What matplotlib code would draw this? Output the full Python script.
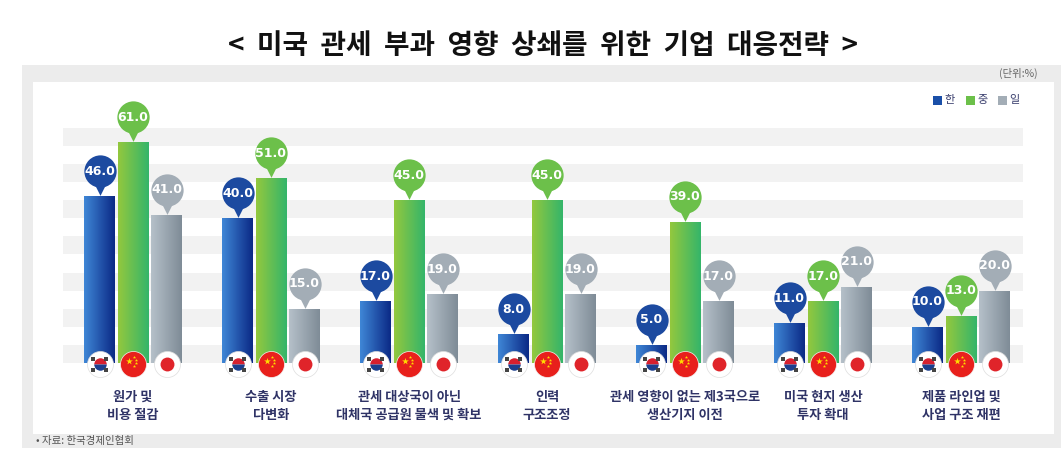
import matplotlib.pyplot as plt
import matplotlib.patches as mpatches
import numpy as np

plt.rcParams['font.family'] = ['Noto Sans CJK KR', 'DejaVu Sans']

# data
categories = [
    "원가 및\n비용 절감",
    "수출 시장\n다변화",
    "관세 대상국이 아닌\n대체국 공급원 물색 및 확보",
    "인력\n구조조정",
    "관세 영향이 없는 제3국으로\n생산기지 이전",
    "미국 현지 생산\n투자 확대",
    "제품 라인업 및\n사업 구조 재편",
]
korea = [46, 40, 17, 8, 5, 11, 10]
china = [61, 51, 45, 45, 39, 17, 13]
japan = [41, 15, 19, 19, 17, 21, 20]
series_names = ["한", "중", "일"]

W, H = 1061, 462
fig = plt.figure(figsize=(W / 100, H / 100), dpi=100)

# background frame (figure pixel coords)
bg = fig.add_axes([0, 0, 1, 1])
bg.set_xlim(0, W)
bg.set_ylim(H, 0)
bg.axis('off')
bg.add_patch(mpatches.Rectangle((22, 65), W - 22, 383, color='#ececec', lw=0))
bg.add_patch(mpatches.Rectangle((33, 82), 1021, 352, color='white', lw=0))

bg.text(543, 46, "<  미국  관세  부과  영향  상쇄를  위한  기업  대응전략  >", ha='center', va='center',
        fontsize=20, fontweight='bold', color='#111111')
bg.text(1038, 73, "(단위:%)", ha='right', va='center', fontsize=7.5, color='#666666')
bg.text(36, 441, "• 자료: 한국경제인협회", ha='left', va='center', fontsize=7.5, color='#555555')

# main plotting axes: x unit = one group (138 px), y unit = 3.62 px
px_x, x0 = 138.0, 133.0
px_y, y0 = 3.62, 363.0
left_px, right_px, top_px, bot_px = 33, 1054, 82, 434
ax = fig.add_axes([left_px / W, 1 - bot_px / H, (right_px - left_px) / W, (bot_px - top_px) / H])
ax.set_xlim((left_px - x0) / px_x, (right_px - x0) / px_x)
ax.set_ylim(-(bot_px - y0) / px_y, (y0 - top_px) / px_y)
ax.axis('off')

# striped background
xs0, xs1 = (63 - x0) / px_x, (1023 - x0) / px_x
for k in range(7):
    ax.fill_between([xs0, xs1], 10 * k, 10 * k + 5, color='#f2f2f2', lw=0, zorder=0)

x = np.arange(len(categories))
bw = 31 / px_x
off = 33.5 / px_x

grads = [('#3f86d6', '#0b2a86'), ('#93c83e', '#34b56a'), ('#b5c0c9', '#7f8c97')]
pin_colors = ['#1c4aa0', '#6cc04a', '#a3adb6']
legend_colors = ['#1a4fa8', '#6cc04a', '#a3adb6']

for j, vals in enumerate([korea, china, japan]):
    bars = ax.bar(x + (j - 1) * off, vals, width=bw, color='none', lw=0, zorder=2)
    c0 = np.array(plt.matplotlib.colors.to_rgb(grads[j][0]))
    c1 = np.array(plt.matplotlib.colors.to_rgb(grads[j][1]))
    t = np.linspace(0, 1, 64)[None, :, None]
    img = c0[None, None, :] * (1 - t) + c1[None, None, :] * t
    for b in bars:
        bx, by, bwid, bh = b.get_x(), b.get_y(), b.get_width(), b.get_height()
        im = ax.imshow(img, extent=[bx, bx + bwid, by - 1.5, by + bh], aspect='auto',
                       zorder=2, interpolation='bilinear')
        im.set_clip_path(b)
        b.set_clip_on(False)
    # value pins
    for xi, v in zip(x + (j - 1) * off, vals):
        cy = v + 25 / px_y
        ax.scatter([xi], [v + 6 / px_y], marker='v', s=60, color=pin_colors[j], lw=0, zorder=4)
        ax.scatter([xi], [cy], marker='o', s=540, color=pin_colors[j], lw=0, zorder=4)
        ax.text(xi, cy, f"{v:.1f}", ha='center', va='center', fontsize=9, fontweight='bold',
                color='white', zorder=5, family=['DejaVu Sans'])

# flags at bar bottom
fy = -1 / px_y
for xi in x:
    kx, cx, jx = xi - off, xi, xi + off
    # Korea
    ax.scatter([kx], [fy], marker='o', s=350, color='white', edgecolors='#dddddd', lw=0.5, zorder=6)
    ax.plot([kx], [fy], marker='o', ms=9, fillstyle='top', markerfacecolor='#d6202f',
            markerfacecoloralt='#1b3f8f', markeredgewidth=0, zorder=7)
    for dx, dy in [(-1, 1), (1, 1), (-1, -1), (1, -1)]:
        ax.scatter([kx + dx * 6.5 / px_x], [fy + dy * 5.5 / px_y], marker='s', s=6,
                   color='#444444', lw=0, zorder=7)
    # China
    ax.scatter([cx], [fy], marker='o', s=350, color='#e8201c', edgecolors='#f3f3f3', lw=0.5, zorder=6)
    ax.scatter([cx - 4 / px_x], [fy + 3.5 / px_y], marker='*', s=26, color='#ffde00', lw=0, zorder=7)
    for dx, dy in [(1, 7), (3, 4), (3, 1), (1, -2)]:
        ax.scatter([cx + dx / px_x], [fy + dy / px_y], marker='*', s=6, color='#ffde00', lw=0, zorder=7)
    # Japan
    ax.scatter([jx], [fy], marker='o', s=350, color='white', edgecolors='#dddddd', lw=0.5, zorder=6)
    ax.scatter([jx], [fy], marker='o', s=100, color='#e0242a', lw=0, zorder=7)

# category labels
for xi, lab in zip(x, categories):
    ax.text(xi, -(390 - y0) / px_y, lab, ha='center', va='top', fontsize=9.5,
            color='#2f3366', linespacing=1.35, fontweight='bold')

# legend
lx = [(937, '#1a4fa8'), (970, '#6cc04a'), (1002, '#a3adb6')]
for (px, col), name in zip(lx, series_names):
    bg.add_patch(mpatches.Rectangle((px - 4, 96), 9, 9, color=col, lw=0))
    bg.text(px + 7, 100.5, name, ha='left', va='center', fontsize=8, color='#3a3f6e')

fig.savefig('out.png', dpi=100)
